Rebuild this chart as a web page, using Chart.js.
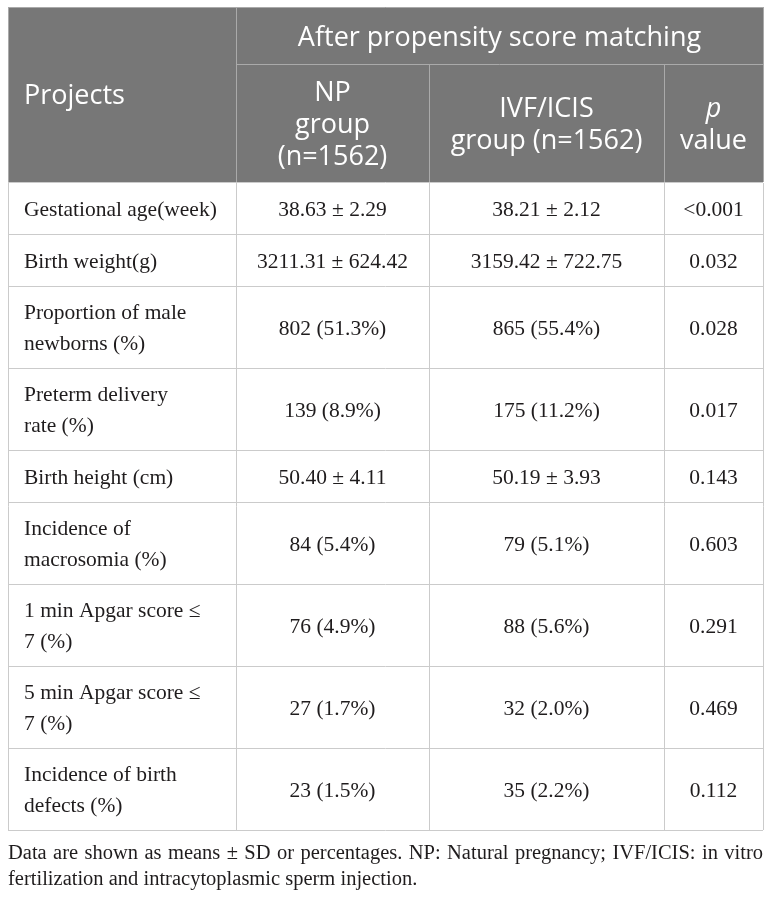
<!DOCTYPE html>
<html>
<head>
<meta charset="utf-8">
<script src="https://cdn.jsdelivr.net/npm/chart.js@4.4.1/dist/chart.umd.min.js"></script>
<style>
    html, body { margin: 0; padding: 0; background: #fff; }
    #wrap { position: relative; width: 772px; height: 897px; }
</style>
</head>
<body>
<div id="wrap"><canvas id="tbl"></canvas></div>
<script>
// Table content
const topHeader = 'After propensity score matching';
const firstHeader = 'Projects';
const groupHeaders = [
    ['NP', 'group', '(n=1562)'],
    ['IVF/ICIS', 'group (n=1562)'],
    ['p', 'value']
];
const projects = [
    ['Gestational age(week)'],
    ['Birth weight(g)'],
    ['Proportion of male', 'newborns (%)'],
    ['Preterm delivery', 'rate (%)'],
    ['Birth height (cm)'],
    ['Incidence of', 'macrosomia (%)'],
    ['1 min Apgar score \u2264', '7 (%)'],
    ['5 min Apgar score \u2264', '7 (%)'],
    ['Incidence of birth', 'defects (%)']
];
const npValues = ['38.63 \u00b1 2.29', '3211.31 \u00b1 624.42', '802 (51.3%)', '139 (8.9%)',
    '50.40 \u00b1 4.11', '84 (5.4%)', '76 (4.9%)', '27 (1.7%)', '23 (1.5%)'];
const ivfValues = ['38.21 \u00b1 2.12', '3159.42 \u00b1 722.75', '865 (55.4%)', '175 (11.2%)',
    '50.19 \u00b1 3.93', '79 (5.1%)', '88 (5.6%)', '32 (2.0%)', '35 (2.2%)'];
const pValues = ['<0.001', '0.032', '0.028', '0.017', '0.143', '0.603', '0.291', '0.469', '0.112'];
const footnote = [
    'Data are shown as means \u00b1 SD or percentages. NP: Natural pregnancy; IVF/ICIS: in vitro',
    'fertilization and intracytoplasmic sperm injection.'
];

// Layout (table units)
const colEdges = [0, 228, 421, 656, 755];
const headEdges = [0, 57, 175];
const rowHeight = lines => lines.length > 1 ? 82 : 52;
const rowEdges = [headEdges[2]];
projects.forEach(p => rowEdges.push(rowEdges[rowEdges.length - 1] + rowHeight(p)));
const tableW = colEdges[colEdges.length - 1];
const tableH = rowEdges[rowEdges.length - 1];

const headFont = "27px 'Open Sans'";
const bodyFont = "21.5px 'Liberation Serif'";
const noteFont = "20.5px 'Liberation Serif'";
const headBg = '#777777';
const headLine = '#aaaaaa';
const bodyLine = '#cbcbcb';
const textColor = '#1f1c1d';
const labelPad = 16;

// one point per cell, placed in table units
function cellPoints(colIdx, leftAlign) {
    return projects.map((p, i) => ({
        x: leftAlign ? colEdges[colIdx] : (colEdges[colIdx] + colEdges[colIdx + 1]) / 2,
        y: (rowEdges[i] + rowEdges[i + 1]) / 2
    }));
}
const columns = [projects, npValues, ivfValues, pValues];

const tablePlugin = {
    id: 'tablePlugin',
    beforeDatasetsDraw(chart) {
        const ctx = chart.ctx;
        const xs = chart.scales.x, ys = chart.scales.y;
        const px = v => Math.round(xs.getPixelForValue(v));
        const py = v => Math.round(ys.getPixelForValue(v));
        ctx.save();
        // header background
        ctx.fillStyle = headBg;
        ctx.fillRect(px(0), py(0), px(tableW) - px(0), py(headEdges[2]) - py(0));

        function hLine(y, x0, x1, c) {
            ctx.strokeStyle = c;
            ctx.beginPath();
            ctx.moveTo(px(x0), py(y) + 0.5);
            ctx.lineTo(px(x1), py(y) + 0.5);
            ctx.stroke();
        }
        function vLine(x, y0, y1, c) {
            ctx.strokeStyle = c;
            ctx.beginPath();
            ctx.moveTo(px(x) + 0.5, py(y0));
            ctx.lineTo(px(x) + 0.5, py(y1));
            ctx.stroke();
        }
        ctx.lineWidth = 1;
        // header grid
        hLine(0, 0, tableW, headLine);
        hLine(headEdges[1], colEdges[1], tableW, headLine);
        vLine(0, 0, headEdges[2], headLine);
        vLine(tableW, 0, headEdges[2], headLine);
        vLine(colEdges[1], 0, headEdges[2], headLine);
        vLine(colEdges[2], headEdges[1], headEdges[2], headLine);
        vLine(colEdges[3], headEdges[1], headEdges[2], headLine);
        // body grid
        rowEdges.forEach(y => hLine(y, 0, tableW, bodyLine));
        colEdges.forEach(x => vLine(x, headEdges[2] + 1, tableH, bodyLine));

        // header texts
        ctx.fillStyle = '#ffffff';
        ctx.font = headFont;
        ctx.textBaseline = 'middle';
        ctx.textAlign = 'left';
        ctx.fillText(firstHeader, xs.getPixelForValue(labelPad), ys.getPixelForValue(headEdges[2] / 2 + 2));
        ctx.textAlign = 'center';
        ctx.fillText(topHeader, xs.getPixelForValue((colEdges[1] + tableW) / 2),
            ys.getPixelForValue(headEdges[1] / 2 + 3));
        const hMid = (headEdges[1] + headEdges[2]) / 2 + 2;
        groupHeaders.forEach((lines, k) => {
            const cx = xs.getPixelForValue((colEdges[k + 1] + colEdges[k + 2]) / 2);
            lines.forEach((t, j) => {
                ctx.font = (k === 2 && j === 0) ? "italic " + headFont : headFont;
                const yy = ys.getPixelForValue(hMid) + (j - (lines.length - 1) / 2) * 32;
                ctx.fillText(t, cx, yy);
            });
        });
        ctx.restore();
    },
    afterDatasetsDraw(chart) {
        const ctx = chart.ctx;
        ctx.save();
        ctx.fillStyle = textColor;
        ctx.font = bodyFont;
        ctx.textBaseline = 'middle';
        chart.data.datasets.forEach((ds, d) => {
            const meta = chart.getDatasetMeta(d);
            meta.data.forEach((pt, i) => {
                const val = columns[d][i];
                if (d === 0) {
                    ctx.textAlign = 'left';
                    val.forEach((t, j) => {
                        ctx.fillText(t, pt.x + labelPad, pt.y + 2 + (j - (val.length - 1) / 2) * 31);
                    });
                } else {
                    ctx.textAlign = 'center';
                    ctx.fillText(val, pt.x, pt.y + 2);
                }
            });
        });

        // footnote, first line justified to table width
        const xs = chart.scales.x, ys = chart.scales.y;
        const left = xs.getPixelForValue(0), right = xs.getPixelForValue(tableW);
        const base = ys.getPixelForValue(tableH);
        ctx.font = noteFont;
        ctx.textAlign = 'left';
        const words = footnote[0].split(' ');
        const total = words.reduce((s, w) => s + ctx.measureText(w).width, 0);
        const gap = (right - left - total) / (words.length - 1);
        let x = left;
        words.forEach(w => {
            ctx.fillText(w, x, base + 24);
            x += ctx.measureText(w).width + gap;
        });
        ctx.fillText(footnote[1], left, base + 50);
        ctx.restore();
    }
};

new Chart(document.getElementById('tbl'), {
    type: 'scatter',
    data: {
        datasets: columns.map((c, i) => ({
            data: cellPoints(i, i === 0),
            pointRadius: 0,
            pointHoverRadius: 0
        }))
    },
    options: {
        responsive: true,
        maintainAspectRatio: false,
        animation: false,
        layout: { padding: { left: 8, top: 7, right: 9, bottom: 67 } },
        scales: {
            x: { type: 'linear', min: 0, max: tableW, display: false },
            y: { type: 'linear', min: 0, max: tableH, reverse: true, display: false }
        },
        plugins: {
            legend: { display: false },
            tooltip: { enabled: false }
        }
    },
    plugins: [tablePlugin]
});
</script>
</body>
</html>
